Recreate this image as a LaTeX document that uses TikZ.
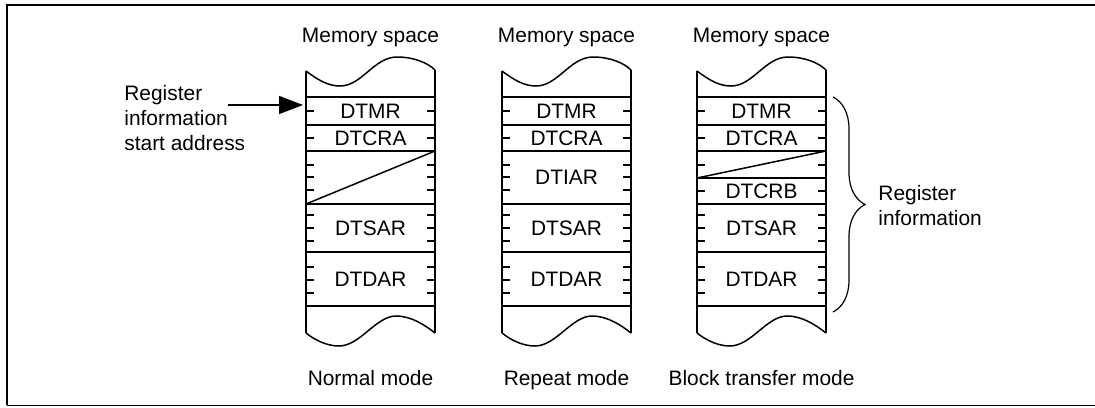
\documentclass[tikz,border=0pt]{standalone}
\usepackage{fontspec}
\setmainfont{Liberation Sans}
\usetikzlibrary{arrows.meta,decorations.pathreplacing}
\tikzset{
  edge/.style={line width=1pt},
  rule/.style={line width=0.75pt},
  reg/.style={inner sep=0pt},
  lbl/.style={inner sep=0pt,anchor=base},
}

\begin{document}
\begin{tikzpicture}[x=0.5pt,y=-0.5pt,font=\fontsize{10.45}{12.5}\selectfont]
	\useasboundingbox (0,0) rectangle (1095,407);
	% frame
	\draw[line width=0.85pt] (7,405) -- (7,5) -- (1095,5);
	\draw[line width=0.5pt] (7,405) -- (1095,405);
	% memory columns
	\foreach \x/\mode [count=\i] in {306/Normal mode,502/Repeat mode,697/Block transfer mode}{
	\begin{scope}[shift={(\x,0)}]
		\draw[edge] (0,71) -- (0,333);
		\draw[edge] (129,70) -- (129,333);
		\draw[rule] (0,71) .. controls (12,80) and (22,86) .. (34,86) .. controls (56,86) and (68,57) .. (91,57) .. controls (108,57) and (122,63) .. (129,70);
		\draw[rule] (0,333) .. controls (10,341) and (22,346) .. (33,346) .. controls (54,346) and (70,316) .. (90,316) .. controls (106,316) and (120,326) .. (129,333);
		\foreach \y in {97,125,151,204,252,306}
			\draw[rule] (0,\y) -- (129,\y);
		\foreach \y in {111,138,215,228,241,267,280,293}{
			\draw[rule] (0,\y) -- (8,\y);
			\draw[rule] (121,\y) -- (129,\y);
		}
		\node[lbl] (space\i) at (64.5,42) {Memory space};
		\node[lbl] (mode\i) at (64.5,385) {\mode};
		\node[reg] (mr\i) at (64.5,111) {DTMR};
		\node[reg] (cra\i) at (64.5,138) {DTCRA};
		\node[reg] (sar\i) at (64.5,228) {DTSAR};
		\node[reg] (dar\i) at (64.5,279) {DTDAR};
	\end{scope}
	}
	% normal mode
	\draw[rule] (306,204) -- (435,151);
	\foreach \y in {165,177,190}{
		\draw[rule] (306,\y) -- ++(8,0);
		\draw[rule] (435,\y) -- ++(-8,0);
	}
	% repeat mode
	\foreach \y in {165,177,190}{
		\draw[rule] (502,\y) -- ++(8,0);
		\draw[rule] (631,\y) -- ++(-8,0);
	}
	\node[reg] (iar2) at (566.5,177) {DTIAR};
	% block transfer mode
	\draw[rule] (697,178) -- (826,178);
	\draw[rule] (697,178) -- (826,151);
	\foreach \y in {165,191}{
		\draw[rule] (697,\y) -- ++(8,0);
		\draw[rule] (826,\y) -- ++(-8,0);
	}
	\node[reg] (crb3) at (761.5,191) {DTCRB};
	% start address
	\node[align=left,anchor=north west,inner sep=0pt] (startlbl) at (124,85) {Register\\information\\start address};
	\coordinate (tail) at (228,105);
	\coordinate (startaddr) at (303,105);
	\draw[rule,-{Triangle[length=12pt,width=9pt]}] (tail) -- (startaddr);
	% register information
	\coordinate (btop) at (833,97);
	\coordinate (bbot) at (833,312);
	\draw[line width=0.6pt,decorate,decoration={brace,amplitude=16pt}] (btop) -- (bbot);
	\node[align=left,anchor=north west,inner sep=0pt] (reginfo) at (878,185) {Register\\information};
\end{tikzpicture}
\end{document}
